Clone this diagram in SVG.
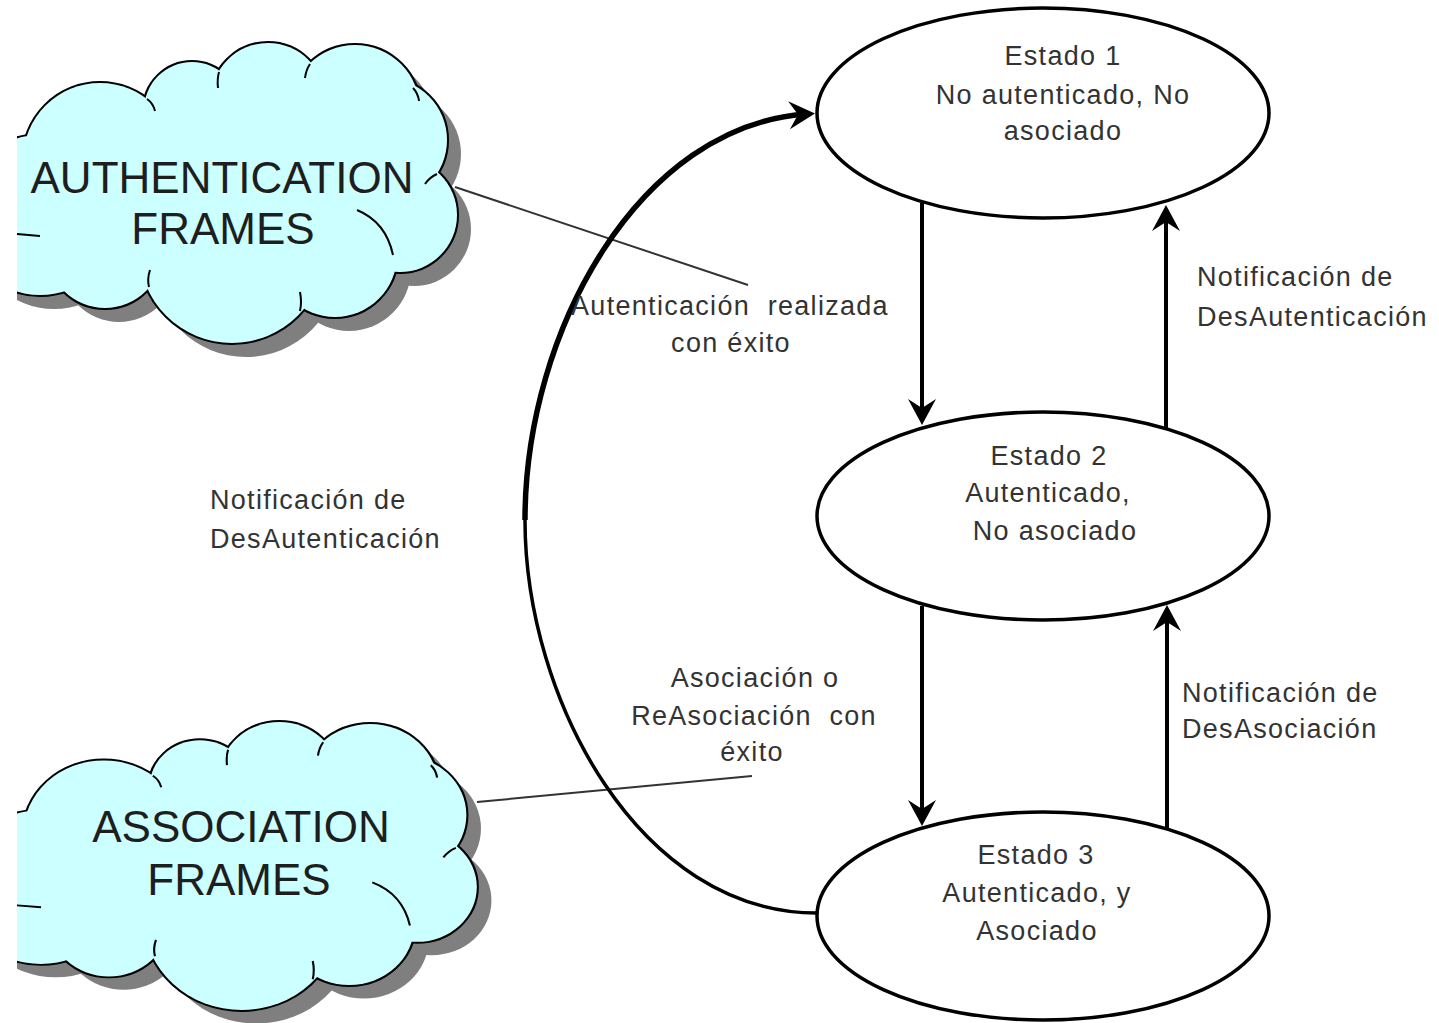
<svg xmlns="http://www.w3.org/2000/svg" xmlns:xlink="http://www.w3.org/1999/xlink" width="1439" height="1023" viewBox="0 0 1439 1023">
<style>
  .state { fill: #ffffff; stroke: #000000; stroke-width: 3.5; }
  .stxt { font-family: "Liberation Sans", Arial, sans-serif; font-size: 27px; fill: #333333; text-anchor: middle; letter-spacing: 1.3px; }
  .lbl { font-family: "Liberation Sans", Arial, sans-serif; font-size: 27px; fill: #333333; letter-spacing: 1.3px; }
  .ctr { text-anchor: middle; }
  .ctxt { font-family: "Liberation Sans", Arial, sans-serif; font-size: 44px; fill: #1e1e1e; text-anchor: middle; }
  .arrow { fill: none; stroke: #000000; stroke-width: 4; }
  .thin { fill: none; stroke: #333333; stroke-width: 2; }
  .tick { fill: none; stroke: #000000; stroke-width: 2; }
</style>
<defs>
  <marker id="ah" markerUnits="userSpaceOnUse" markerWidth="32" markerHeight="32" viewBox="-20 -16 32 32" refX="0" refY="0" orient="auto">
    <path d="M8,0 L-18,-14 L-9,0 L-18,14 Z" fill="#000000"/>
  </marker>
  <clipPath id="leftclip"><rect x="17" y="0" width="1422" height="1023"/></clipPath>
  <g id="cloudCircles">
    <circle cx="100" cy="160" r="77"/>
    <circle cx="192" cy="110" r="48"/>
    <circle cx="268" cy="100" r="57"/>
    <circle cx="355" cy="110" r="65"/>
    <circle cx="385" cy="140" r="62"/>
    <circle cx="400" cy="215" r="57"/>
    <circle cx="335" cy="255" r="62"/>
    <circle cx="232" cy="250" r="93"/>
    <circle cx="105" cy="250" r="58"/>
    <circle cx="40" cy="215" r="80"/>
    <ellipse cx="240" cy="190" rx="150" ry="90"/>
  </g>
  <g id="cloudTicks">
    <path class="tick" d="M357,210 Q386,222 393,255"/>
    <path class="tick" d="M437,174 Q430,177 425,184"/>
    <path class="tick" d="M17,234 L40,236"/>
    <path class="tick" d="M147,99 Q153,103 155,111"/>
    <path class="tick" d="M219,72 Q217,79 218,88"/>
    <path class="tick" d="M310,64 Q306,70 305,78"/>
    <path class="tick" d="M413,88 Q418,93 419,101"/>
    <path class="tick" d="M300,311 Q302,302 300,292"/>
    <path class="tick" d="M149,287 Q147,279 150,270"/>
  </g>
  <g id="cloud">
    <use xlink:href="#cloudCircles" fill="#7f7f7f" stroke="none" transform="translate(14,14)"/>
    <use xlink:href="#cloudCircles" fill="#000000" stroke="#000000" stroke-width="4"/>
    <use xlink:href="#cloudCircles" fill="#ccffff" stroke="none"/>
    <use xlink:href="#cloudTicks"/>
  </g>
</defs>

<g id="auth-frames" clip-path="url(#leftclip)">
  <use xlink:href="#cloud"/>
  <text class="ctxt" x="222" y="193">AUTHENTICATION</text>
  <text class="ctxt" x="223" y="244">FRAMES</text>
</g>

<g id="assoc-frames" clip-path="url(#leftclip)">
  <use xlink:href="#cloud" transform="translate(17,722) scale(1.045,0.96) translate(-17,-43)"/>
  <text class="ctxt" x="241" y="842">ASSOCIATION</text>
  <text class="ctxt" x="239" y="895">FRAMES</text>
</g>

<g id="connectors">
  <path class="thin" d="M455,187 L748,285"/>
  <path class="thin" d="M477,802 L752,776"/>
  <path class="arrow" d="M922,203 L922,417" marker-end="url(#ah)"/>
  <path class="arrow" d="M1166,428 L1166,213" marker-end="url(#ah)"/>
  <path class="arrow" d="M922,606 L922,818" marker-end="url(#ah)"/>
  <path class="arrow" d="M1167,828 L1167,613" marker-end="url(#ah)"/>
  <path fill="none" stroke="#000" stroke-width="3.5" d="M817,913 C640,913 525,700 525,520"/>
  <path fill="none" stroke="#000" stroke-width="5.5" d="M525,520 C525,330 640,125 807,114" marker-end="url(#ah)"/>
</g>

<g id="estado1">
  <ellipse class="state" cx="1043" cy="113" rx="226" ry="105"/>
  <text class="stxt" x="1063" y="65">Estado 1</text>
  <text class="stxt" x="1063" y="104">No autenticado, No</text>
  <text class="stxt" x="1063" y="140">asociado</text>
</g>

<g id="estado2">
  <ellipse class="state" cx="1043" cy="516" rx="226" ry="104"/>
  <text class="stxt" x="1049" y="465">Estado 2</text>
  <text class="stxt" x="1048" y="502">Autenticado,</text>
  <text class="stxt" x="1055" y="540">No asociado</text>
</g>

<g id="estado3">
  <ellipse class="state" cx="1043" cy="916" rx="226" ry="104"/>
  <text class="stxt" x="1036" y="864">Estado 3</text>
  <text class="stxt" x="1037" y="902">Autenticado, y</text>
  <text class="stxt" x="1037" y="940">Asociado</text>
</g>

<g id="labels">
  <text class="lbl ctr" x="730" y="315" xml:space="preserve">Autenticación  realizada</text>
  <text class="lbl ctr" x="731" y="352">con éxito</text>
  <text class="lbl" x="1197" y="286">Notificación de</text>
  <text class="lbl" x="1197" y="326">DesAutenticación</text>
  <text class="lbl" x="1182" y="702">Notificación de</text>
  <text class="lbl" x="1182" y="738">DesAsociación</text>
  <text class="lbl" x="210" y="509">Notificación de</text>
  <text class="lbl" x="210" y="548">DesAutenticación</text>
  <text class="lbl ctr" x="755" y="687">Asociación o</text>
  <text class="lbl ctr" x="754" y="725" xml:space="preserve">ReAsociación  con</text>
  <text class="lbl ctr" x="752" y="761">éxito</text>
</g>
</svg>
